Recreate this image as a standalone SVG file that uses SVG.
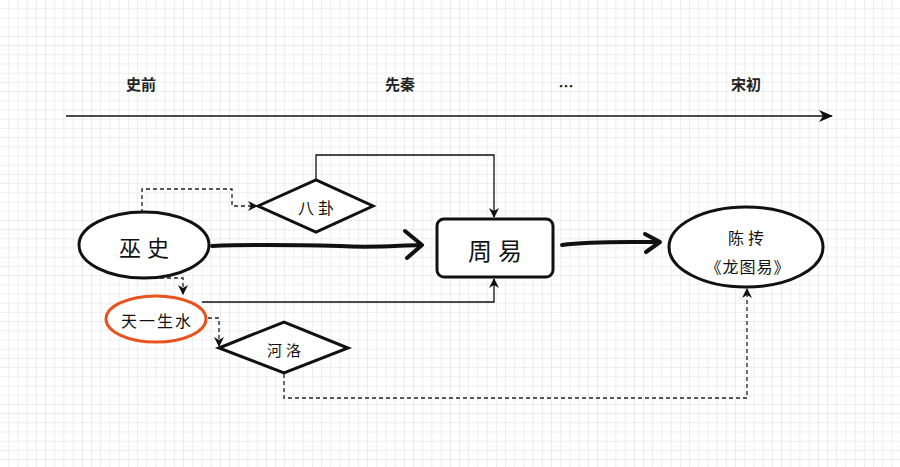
<svg xmlns="http://www.w3.org/2000/svg" width="900" height="467" viewBox="0 0 900 467">
<defs>
<pattern id="grid" width="9.2" height="9.2" patternUnits="userSpaceOnUse" x="0" y="0">
<path d="M9.2 0V9.2M0 9.2H9.2" fill="none" stroke="#dcdcdc" stroke-width="1"/>
</pattern>
<marker id="tri" viewBox="0 0 10 10" refX="9" refY="5" markerWidth="10" markerHeight="10" markerUnits="userSpaceOnUse" orient="auto">
<path d="M0 0L10 5L0 10L3 5Z" fill="#111"/>
</marker>
<marker id="bigtri" viewBox="0 0 14 12" refX="13" refY="6" markerWidth="14" markerHeight="12" markerUnits="userSpaceOnUse" orient="auto">
<path d="M0 0L14 6L0 12L4 6Z" fill="#111"/>
</marker>
<style>
.hdr{font-family:"Noto Sans CJK SC","Noto Sans",sans-serif;font-size:15px;font-weight:bold;fill:#222;text-anchor:middle}
.lbl{font-family:"Noto Sans CJK SC","Noto Sans",sans-serif;fill:#111;text-anchor:middle;dominant-baseline:central;letter-spacing:4px}
.shape{fill:#fff;stroke:#111;stroke-width:3}
.thin{fill:none;stroke:#111;stroke-width:1.3}
.dash{fill:none;stroke:#222;stroke-width:1.3;stroke-dasharray:4 3}
.thick{fill:none;stroke:#111;stroke-width:4;stroke-linecap:round;stroke-linejoin:round}
</style>
</defs>
<rect width="900" height="467" fill="#fff"/>
<rect width="900" height="467" fill="url(#grid)"/>

<g id="headers">
<text class="hdr" x="141" y="90">史前</text>
<text class="hdr" x="400" y="90">先秦</text>
<text class="hdr" x="566" y="92">…</text>
<text class="hdr" x="746" y="90">宋初</text>
</g>

<g id="connectors">
<line x1="66" y1="116" x2="832" y2="116" stroke="#111" stroke-width="1.5" marker-end="url(#bigtri)"/>
<path class="dash" d="M142 213V189H232V206H257" marker-end="url(#tri)"/>
<path class="thin" d="M316 180V155H494V217" marker-end="url(#tri)"/>
<path class="thick" d="M212 246C260 244 300 245 340 246C370 248 390 246 420 245"/>
<path class="thick" d="M405 231L422 245L407 258"/>
<path class="thick" d="M562 245C590 241 620 242 658 242"/>
<path class="thick" d="M645 234L660 242L646 252"/>
<path class="dash" d="M160 278H183V294" marker-end="url(#tri)"/>
<path class="thin" d="M202 302H494V279" marker-end="url(#tri)"/>
<path class="dash" d="M208 318H219V346" marker-end="url(#tri)"/>
<path class="dash" d="M284 374V398H747V289" marker-end="url(#tri)"/>
</g>

<g id="wushi">
<ellipse class="shape" cx="144" cy="245" rx="65" ry="33"/>
<text class="lbl" x="147" y="246" font-size="22" style="letter-spacing:6px">巫史</text>
</g>

<g id="bagua">
<path class="shape" d="M258 206L316 180L373 206L316 232Z" stroke-width="2"/>
<text class="lbl" x="318" y="207" font-size="16">八卦</text>
</g>

<g id="zhouyi">
<rect class="shape" x="437" y="219" width="116" height="58" rx="7"/>
<text class="lbl" x="498" y="249" font-size="24" style="letter-spacing:6px">周易</text>
</g>

<g id="chentuan">
<ellipse class="shape" cx="746" cy="247" rx="77" ry="40"/>
<text class="lbl" x="748" y="237" font-size="16">陈抟</text>
<text class="lbl" x="748" y="266" font-size="16" style="letter-spacing:1px">《龙图易》</text>
</g>

<g id="tianyi">
<ellipse cx="156" cy="319" rx="50" ry="23" fill="#fff" stroke="#e8541f" stroke-width="3"/>
<text class="lbl" x="157" y="320" font-size="16" style="letter-spacing:2px">天一生水</text>
</g>

<g id="heluo">
<path class="shape" d="M219 348L284 322L348 348L284 373Z" stroke-width="2.5"/>
<text class="lbl" x="286" y="349" font-size="15">河洛</text>
</g>
</svg>
